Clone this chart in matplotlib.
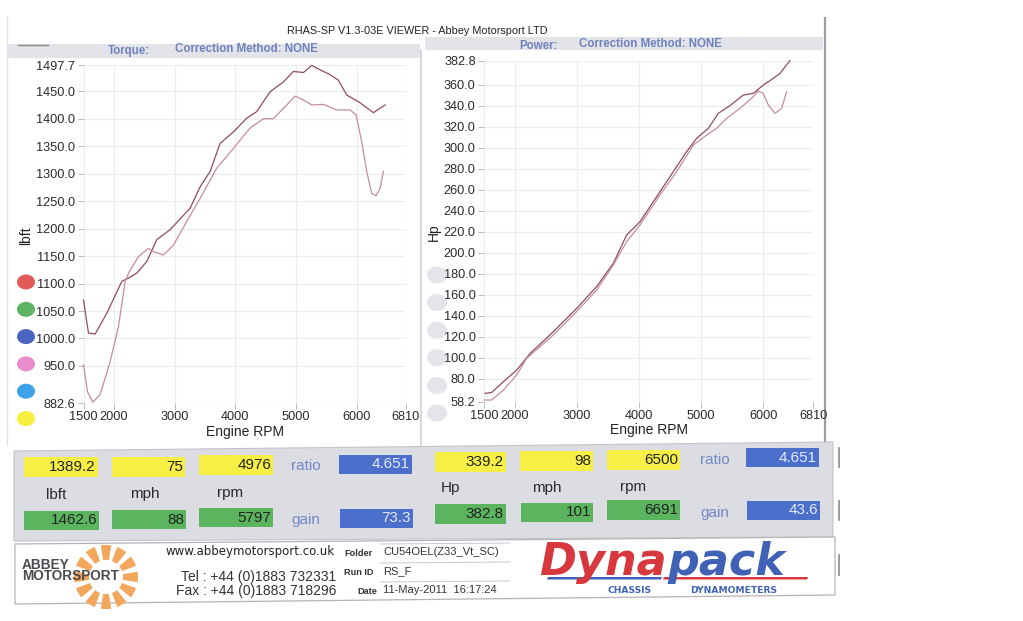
import matplotlib
matplotlib.use('Agg')
import matplotlib.pyplot as plt
from matplotlib.patches import Rectangle, Polygon, Wedge, Ellipse

W, H = 1023, 621

# ---------------- data ----------------
rpm_ticks = [1500, 2000, 3000, 4000, 5000, 6000, 6810]
torque_ticks = [882.6, 950.0, 1000.0, 1050.0, 1100.0, 1150.0, 1200.0, 1250.0,
                1300.0, 1350.0, 1400.0, 1450.0, 1497.7]
power_ticks = [58.2, 80.0, 100.0, 120.0, 140.0, 160.0, 180.0, 200.0, 220.0,
               240.0, 260.0, 280.0, 300.0, 320.0, 340.0, 360.0, 382.8]

torque_a_rpm = [1500, 1540, 1582, 1692, 1884, 2131, 2241, 2378, 2542, 2707, 2926,
                3255, 3420, 3585, 3749, 3969, 4188, 4353, 4572, 4792, 4956, 5121,
                5258, 5395, 5560, 5697, 5834, 6026, 6273, 6465]
torque_a = [1070, 1040, 1010, 1008, 1046, 1104, 1110, 1119, 1140, 1180, 1198,
            1237, 1276, 1304, 1355, 1376, 1401, 1413, 1449, 1467, 1486, 1484,
            1497, 1489, 1480, 1470, 1443, 1431, 1411, 1425]

torque_b_rpm = [1500, 1566, 1654, 1774, 1939, 2076, 2186, 2241, 2405, 2570, 2652,
                2817, 2981, 3200, 3420, 3694, 3969, 4243, 4462, 4627, 4846, 4984,
                5121, 5258, 5450, 5669, 5889, 5988, 6081, 6163, 6245, 6317, 6383,
                6438]
torque_b = [952, 903, 884, 898, 958, 1022, 1104, 1119, 1149, 1164, 1158,
            1152, 1170, 1213, 1255, 1310, 1346, 1383, 1400, 1400, 1425, 1441,
            1434, 1425, 1426, 1416, 1416, 1407, 1358, 1304, 1264, 1260, 1273,
            1304]

power_a_rpm = [1516, 1624, 1812, 2027, 2242, 2618, 2994, 3316, 3585, 3800, 4015,
               4337, 4606, 4767, 4929, 5117, 5278, 5466, 5681, 5842, 6003, 6165,
               6272, 6433]
power_a = [66.1, 67.0, 77.2, 88.3, 104.0, 124.8, 147.0, 167.7, 189.9, 216.9, 229.5,
           258.0, 281.9, 296.2, 308.9, 318.4, 332.7, 340.0, 350.1, 351.7, 359.6, 366.0,
           370.7, 382.8]

power_b_rpm = [1500, 1624, 1812, 2027, 2188, 2618, 2994, 3316, 3585, 3800, 4015,
               4337, 4606, 4875, 5090, 5251, 5412, 5627, 5842, 5923, 6003, 6084,
               6192, 6299, 6380]
power_b = [59.8, 59.8, 69.3, 83.6, 99.5, 121.7, 143.9, 164.5, 188.3, 210.5, 226.4,
           254.9, 277.1, 302.5, 312.0, 318.4, 327.9, 337.4, 348.5, 353.9, 351.7, 340.6,
           332.7, 337.4, 353.3]

legend_colors = ['#E25A5A', '#5DB363', '#4A66C2', '#E88CCB', '#3DA2EA', '#F6EF3E']

left_yellow = ['1389.2', '75', '4976']
left_green = ['1462.6', '88', '5797']
left_units = ['lbft', 'mph', 'rpm']
right_yellow = ['339.2', '98', '6500']
right_green = ['382.8', '101', '6691']
right_units = ['Hp', 'mph', 'rpm']
ratio_values = ['4.651', '4.651']
gain_values = ['73.3', '43.6']

title_text = 'RHAS-SP V1.3-03E VIEWER - Abbey Motorsport LTD'
footer_fields = [('Folder', 'CU54OEL(Z33_Vt_SC)'), ('Run ID', 'RS_F'),
                 ('Date', '11-May-2011  16:17:24')]

# ---------------- figure ----------------
plt.rcParams['font.family'] = ['Liberation Sans', 'DejaVu Sans']
fig = plt.figure(figsize=(W / 100, H / 100), dpi=100)
fig.patch.set_facecolor('white')

bg = fig.add_axes([0, 0, 1, 1])
bg.set_xlim(0, W)
bg.set_ylim(H, 0)
bg.axis('off')
bg.set_zorder(0)


def rect(x0, y0, x1, y1, fc, ec='none', lw=0, z=1):
    bg.add_patch(Rectangle((x0, y0), x1 - x0, y1 - y0, facecolor=fc,
                           edgecolor=ec, linewidth=lw, zorder=z))


def txt(x, y, s, **kw):
    kw.setdefault('va', 'center')
    kw.setdefault('zorder', 5)
    bg.text(x, y, s, **kw)


# window borders
bg.plot([7, 7], [16, 445], color='#E2E2E6', lw=1.0, zorder=1)
bg.plot([825, 825], [18, 540], color='#9C9CA4', lw=1.6, zorder=1)
bg.plot([421, 421], [50, 445], color='#CFCFD6', lw=1.2, zorder=1)
for y0, y1 in [(448, 467), (501, 520), (555, 575)]:
    bg.plot([839, 839], [y0, y1], color='#8A8A90', lw=1.2, zorder=1)

# title
txt(417, 30.5, title_text, ha='center', fontsize=7.8, color='#222222')

# header bands
rect(8, 44, 420, 58, '#E3E4E9')
rect(425, 37, 823, 50, '#E3E4E9')
bg.plot([18, 48], [44.5, 44.5], color='#8A8A8A', lw=1.0, zorder=2)
hdr = dict(fontsize=8.3, fontweight='bold', color='#6E82BC')
txt(108, 50.7, 'Torque:', ha='left', **hdr)
txt(175, 49.3, 'Correction Method: NONE', ha='left', **hdr)
txt(519, 45.7, 'Power:', ha='left', **hdr)
txt(579, 44.0, 'Correction Method: NONE', ha='left', **hdr)


def chart(x0, y0, x1, y1, ylim, yticks, xs, ys, ylabel, ylabel_xy):
    ax = fig.add_axes([x0 / W, 1 - y1 / H, (x1 - x0) / W, (y1 - y0) / H])
    ax.set_zorder(2)
    ax.patch.set_alpha(0)
    ax.set_xlim(1500, 6810)
    ax.set_ylim(*ylim)
    ax.set_xticks(rpm_ticks)
    ax.set_xticklabels([str(v) for v in rpm_ticks])
    ax.set_yticks(yticks)
    ax.set_yticklabels([f'{v:.1f}' for v in yticks])
    for s in ax.spines.values():
        s.set_visible(False)
    ax.grid(True, color='#ECECF1', lw=0.8)
    ax.set_axisbelow(True)
    ax.tick_params(length=4, width=0.6, color='#B0B0B0', pad=2,
                   labelsize=9.2, labelcolor='#2A2A2A')
    for (rx, vy), c in zip(zip(xs, ys), ['#8E4C5E', '#C58C9C']):
        ax.plot(rx, vy, color=c, lw=0.9, clip_on=False)
    ax.set_xlabel('Engine RPM', fontsize=10, color='#222222', labelpad=1)
    txt(ylabel_xy[0], ylabel_xy[1], ylabel, ha='center', rotation=90,
        fontsize=10, color='#222222')
    return ax


chart(83.5, 65, 406, 403, (882.6, 1497.7), torque_ticks,
      [torque_a_rpm, torque_b_rpm], [torque_a, torque_b], 'lbft', (26, 236))
chart(484, 60.7, 813.3, 401.7, (58.2, 382.8), power_ticks,
      [power_a_rpm, power_b_rpm], [power_a, power_b], 'Hp', (434, 232))

# legend dots
for i, c in enumerate(legend_colors):
    bg.add_patch(Ellipse((26, 282 + i * 27.3), 18, 15, facecolor=c,
                         edgecolor='none', zorder=3))
for i in range(6):
    bg.add_patch(Ellipse((437, 275 + i * 27.6), 20, 17, facecolor='#E4E4EA',
                         edgecolor='none', zorder=3))

# ---------------- data panel ----------------
bg.add_patch(Polygon([(14, 451), (833, 442), (833, 537), (14, 541)], closed=True,
                     facecolor='#DCDDE3', edgecolor='#C4C4CA', lw=0.8, zorder=1))


def valbox(x0, x1, y0, y1, fc, s, tc='#222222'):
    rect(x0, y0, x1, y1, fc, z=2)
    txt(x1 - 2, (y0 + y1) / 2, s, fontsize=11, color=tc, ha='right')


left_y_boxes = [(24, 98, 457, 477), (112, 185, 457, 477), (199, 273, 455, 475)]
left_g_boxes = [(24, 99, 511, 530), (112, 186, 510, 529), (199, 273, 508, 527)]
left_unit_xy = [(56, 495), (145, 494), (230, 493)]
right_y_boxes = [(435, 506, 452, 472), (520, 593, 451, 471), (607, 680, 450, 470)]
right_g_boxes = [(435, 506, 504, 524), (521, 593, 503, 522), (607, 680, 500, 520)]
right_unit_xy = [(450, 488), (547, 488), (633, 487)]

for b, v in zip(left_y_boxes, left_yellow):
    valbox(b[0], b[1], b[2], b[3], '#F7EF45', v)
for b, v in zip(left_g_boxes, left_green):
    valbox(b[0], b[1], b[2], b[3], '#5BB55E', v)
for (x, y), u in zip(left_unit_xy, left_units):
    txt(x, y, u, ha='center', fontsize=11, color='#2A2A2A')
for b, v in zip(right_y_boxes, right_yellow):
    valbox(b[0], b[1], b[2], b[3], '#F7EF45', v)
for b, v in zip(right_g_boxes, right_green):
    valbox(b[0], b[1], b[2], b[3], '#5BB55E', v)
for (x, y), u in zip(right_unit_xy, right_units):
    txt(x, y, u, ha='center', fontsize=11, color='#2A2A2A')

lab = dict(fontsize=11, color='#7288C4', ha='center')
txt(306, 466, 'ratio', **lab)
txt(306, 520, 'gain', **lab)
txt(715, 460, 'ratio', **lab)
txt(715, 513, 'gain', **lab)
valbox(339, 412, 455, 474, '#4B6FCB', ratio_values[0], tc='#E4EAFA')
valbox(340, 413, 509, 528, '#4B6FCB', gain_values[0], tc='#E4EAFA')
valbox(746, 819, 448, 467, '#4B6FCB', ratio_values[1], tc='#E4EAFA')
valbox(747, 820, 501, 520, '#4B6FCB', gain_values[1], tc='#E4EAFA')

# ---------------- footer ----------------
bg.add_patch(Polygon([(15, 544), (835, 537), (835, 595), (15, 604)], closed=True,
                     facecolor='white', edgecolor='#B4B4B8', lw=0.9, zorder=1))

# Abbey Motorsport sunburst
for k in range(12):
    a = k * 30
    bg.add_patch(Wedge((106, 577), 32, a - 9.5, a + 9.5, width=15,
                       facecolor='#F2A75C', edgecolor='none', zorder=2))
txt(22, 570.5, 'ABBEY\nMOTORSPORT', ha='left', multialignment='left',
    linespacing=0.72, fontsize=9.8, fontweight='bold', color='#4A4A50')

txt(165, 552, 'www.abbeymotorsport.co.uk', ha='left', fontsize=8.5,
    family='DejaVu Sans', color='#222222')
txt(336, 577, 'Tel : +44 (0)1883 732331', ha='right', fontsize=10, color='#333333')
txt(336, 590.5, 'Fax : +44 (0)1883 718296', ha='right', fontsize=10, color='#333333')

field_y = [552, 571, 590]
label_x = [373, 373, 377]
for (lbl, val), y, lx in zip(footer_fields, field_y, label_x):
    txt(lx, y + 1.5, lbl, ha='right', fontsize=6.6, fontweight='bold', color='#333333')
    txt(383, y, val, ha='left', fontsize=8, color='#333333')
    bg.plot([380, 510], [y - 8, y - 9], color='#C8C8CC', lw=0.7, zorder=3)

# Dynapack logo
logo = dict(fontsize=32, fontweight='bold', style='italic', family='DejaVu Sans',
            va='baseline')
txt(539, 575, 'Dyna', ha='left', color='#D8373D', **logo)
txt(667, 575, 'pack', ha='left', color='#3F62B6', **logo)
bg.add_patch(Polygon([(548, 577), (662, 577), (661, 579.5), (547, 579.5)], closed=True,
                     facecolor='#3F62B6', edgecolor='none', zorder=4))
bg.add_patch(Polygon([(664, 577), (808, 577), (807, 579.5), (663, 579.5)], closed=True,
                     facecolor='#D8373D', edgecolor='none', zorder=4))
txt(607, 590.5, 'CHASSIS', ha='left', fontsize=6.6, fontweight='bold',
    family='DejaVu Sans', color='#3F62B6')
txt(690, 590.5, 'DYNAMOMETERS', ha='left', fontsize=6.6, fontweight='bold',
    family='DejaVu Sans', color='#3F62B6')

fig.savefig('out.png', dpi=100, facecolor='white')
